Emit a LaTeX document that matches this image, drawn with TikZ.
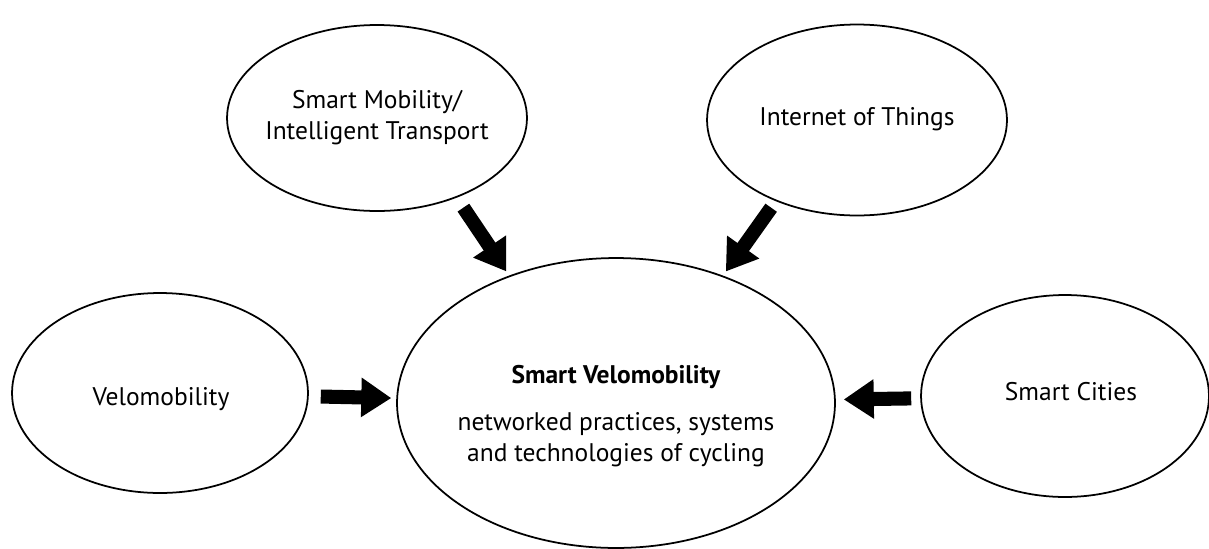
\documentclass[tikz,border=0pt]{standalone}
\usepackage{fontspec}
\setmainfont{PT Sans}
\usetikzlibrary{arrows.meta,shapes.geometric}

\tikzset{
  bubble/.style={draw, ellipse, line width=1pt, inner sep=0pt},
  fatarrow/.style={line width=8pt, -{Triangle[length=0.6cm, width=0.75cm]}},
}

\begin{document}
\begin{tikzpicture}[x=0.02cm, y=-0.02cm, font=\fontsize{14.5}{17.5}\selectfont]
  \useasboundingbox (0,0) rectangle (1209,548);

  % the five bubbles
  \node[bubble, minimum width=6cm, minimum height=3.72cm] (mob) at (377,118) {};
  \node[bubble, minimum width=6cm, minimum height=3.82cm] (iot) at (857,120) {};
  \node[bubble, minimum width=5.92cm, minimum height=4cm] (velo) at (160,393) {};
  \node[bubble, minimum width=5.76cm, minimum height=4.04cm] (city) at (1065,396) {};
  \node[bubble, minimum width=8.76cm, minimum height=5.8cm] (sv) at (616,403) {};

  % texts
  \node[align=center] (mobtxt) at (377,118) {Smart Mobility/\\Intelligent Transport};
  \node (iottxt) at (857,119) {Internet of Things};
  \node (velotxt) at (161,399) {Velomobility};
  \node (citytxt) at (1071,392) {Smart Cities};
  \node[align=center] (svtxt) at (616,416) {\textbf{Smart Velomobility}\\[9pt]networked practices, systems\\and technologies of cycling};

  % arrows into the centre
  \draw[fatarrow, shorten <=0.24cm, shorten >=0.1cm] (mob.-45) -- (sv.130);
  \draw[fatarrow, shorten <=0.16cm, shorten >=0.1cm] (iot.225) -- (sv.50);
  \draw[fatarrow, shorten <=0.24cm, shorten >=0.1cm] (velo) -- (sv);
  \draw[fatarrow, shorten <=0.18cm, shorten >=0.16cm] (city) -- (sv);
\end{tikzpicture}
\end{document}
